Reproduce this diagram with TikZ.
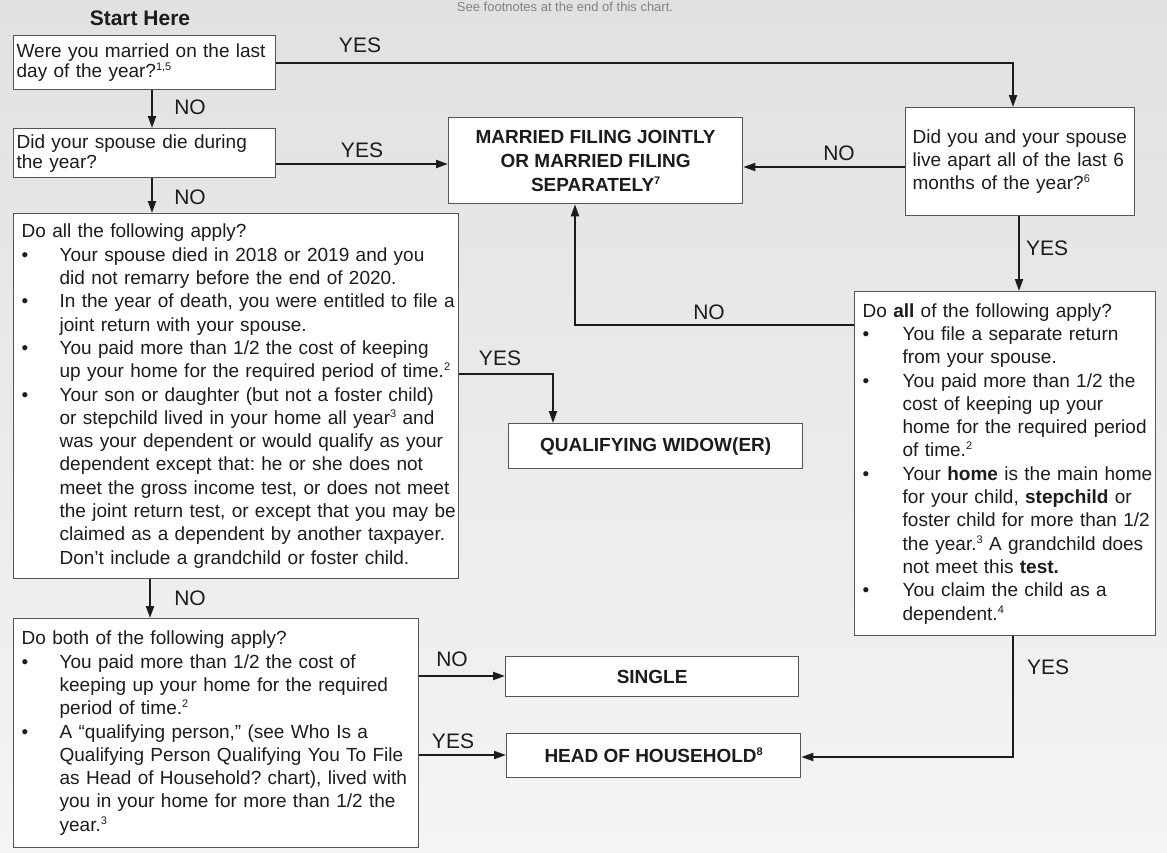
\documentclass[tikz,border=0pt]{standalone}
\usepackage{fontspec}
\setmainfont{Liberation Sans}
\usetikzlibrary{arrows.meta}
\definecolor{bgtop}{RGB}{225,225,225}
\definecolor{bgbot}{RGB}{244,244,244}
\definecolor{ink}{RGB}{28,28,28}
\definecolor{edge}{RGB}{85,85,85}
\definecolor{faint}{RGB}{130,130,130}
\newcommand{\sups}[1]{\raisebox{7pt}{\fontsize{11}{11}\selectfont #1}}
\newcommand{\pl}[1]{\mbox{#1}}
\newcommand{\bl}[1]{\mbox{\makebox[38pt][l]{\textbullet}#1}}
\newcommand{\il}[1]{\mbox{\hspace*{38pt}#1}}
\newcommand{\blr}[1]{\mbox{\makebox[40pt][l]{\textbullet}#1}}
\newcommand{\ilr}[1]{\mbox{\hspace*{40pt}#1}}
\begin{document}
\frenchspacing
\begin{tikzpicture}[x=1pt,y=-1pt,
  font=\fontsize{19}{23.3}\selectfont\frenchspacing, text=ink,
  box/.style={draw=edge, line width=1.3pt, fill=white, anchor=north west,
    align=left, inner ysep=0pt},
  res/.style={draw=edge, line width=1.3pt, fill=white, anchor=north west,
    align=center, inner sep=0pt, font=\fontsize{19}{24}\selectfont\bfseries},
  lab/.style={inner sep=0pt, font=\fontsize{21}{24}\selectfont},
  arr/.style={line width=2pt, draw=ink, -{Triangle[length=12pt,width=8pt]}}]
\useasboundingbox (0,0) rectangle (1167,852);
\clip (0,0) rectangle (1167,852);
\shade[top color=bgtop, bottom color=bgbot] (0,0) rectangle (1167,852);

\node[text=faint, inner sep=0pt, font=\fontsize{13}{14}\selectfont] (note) at (565,7) {See footnotes at the end of this chart.};
\node[inner sep=0pt, font=\fontsize{21}{24}\selectfont\bfseries] (start) at (140,18) {Start Here};

% question boxes
\node[box, inner xsep=3pt, minimum width=262pt, minimum height=54pt, text width=256pt,
  font=\fontsize{19}{20}\selectfont] (q1) at (13,35)
  {\pl{Were you married on the last}\\\pl{day of the year?\sups{1,5}}};
\node[box, inner xsep=3pt, minimum width=262pt, minimum height=49pt, text width=256pt,
  font=\fontsize{19}{20}\selectfont] (q2) at (13,128)
  {\pl{Did your spouse die during}\\\pl{the year?}};
\node[box, inner xsep=8pt, minimum width=445pt, minimum height=365pt, text width=429pt] (q3) at (13,213)
  {\pl{Do all the following apply?}\\
   \bl{Your spouse died in 2018 or 2019 and you}\\
   \il{did not remarry before the end of 2020.}\\
   \bl{In the year of death, you were entitled to file a}\\
   \il{joint return with your spouse.}\\
   \bl{You paid more than 1/2 the cost of keeping}\\
   \il{up your home for the required period of time.\sups{2}}\\
   \bl{Your son or daughter (but not a foster child)}\\
   \il{or stepchild lived in your home all year\sups{3} and}\\
   \il{was your dependent or would qualify as your}\\
   \il{dependent except that: he or she does not}\\
   \il{meet the gross income test, or does not meet}\\
   \il{the joint return test, or except that you may be}\\
   \il{claimed as a dependent by another taxpayer.}\\
   \il{Don’t include a grandchild or foster child.}};
\node[box, inner xsep=8pt, minimum width=405pt, minimum height=229pt, text width=389pt] (q4) at (13,618)
  {\pl{Do both of the following apply?}\\
   \bl{You paid more than 1/2 the cost of}\\
   \il{keeping up your home for the required}\\
   \il{period of time.\sups{2}}\\
   \bl{A “qualifying person,” (see Who Is a}\\
   \il{Qualifying Person Qualifying You To File}\\
   \il{as Head of Household? chart), lived with}\\
   \il{you in your home for more than 1/2 the}\\
   \il{year.\sups{3}}};
\node[box, inner xsep=7pt, minimum width=229pt, minimum height=108pt, text width=215pt] (q5) at (905,107)
  {\pl{Did you and your spouse}\\\pl{live apart all of the last 6}\\\pl{months of the year?\sups{6}}};
\node[box, inner xsep=8pt, minimum width=301pt, minimum height=344pt, text width=285pt] (q6) at (854,291)
  {\pl{Do \textbf{all} of the following apply?}\\
   \blr{You file a separate return}\\
   \ilr{from your spouse.}\\
   \blr{You paid more than 1/2 the}\\
   \ilr{cost of keeping up your}\\
   \ilr{home for the required period}\\
   \ilr{of time.\sups{2}}\\
   \blr{Your \textbf{home} is the main home}\\
   \ilr{for your child, \textbf{stepchild} or}\\
   \ilr{foster child for more than 1/2}\\
   \ilr{the year.\sups{3} A grandchild does}\\
   \ilr{not meet this \textbf{test.}}\\
   \blr{You claim the child as a}\\
   \ilr{dependent.\sups{4}}};

% result boxes
\node[res, minimum width=294pt, minimum height=86pt] (mfj) at (448,117)
  {MARRIED FILING JOINTLY\\OR MARRIED FILING\\SEPARATELY\sups{7}};
\node[res, minimum width=294pt, minimum height=45pt] (qw) at (508,423) {QUALIFYING WIDOW(ER)};
\node[res, minimum width=293pt, minimum height=40pt] (single) at (505,656) {SINGLE};
\node[res, minimum width=294pt, minimum height=44pt] (hoh) at (506,733) {HEAD OF HOUSEHOLD\sups{8}};

% helper levels
\coordinate (x1013) at (1013,0);
\coordinate (x152) at (152,0);
\coordinate (x150) at (150,0);
\coordinate (x1019) at (1019,0);
\coordinate (x575) at (575,0);
\coordinate (x553) at (553,0);
\coordinate (y164) at (0,164);
\coordinate (y167) at (0,167);
\coordinate (y325) at (0,325);
\coordinate (y374) at (0,374);
\coordinate (y676) at (0,676);
\coordinate (y755) at (0,755);
\coordinate (y757) at (0,757);

% connectors
\draw[arr] (q1.east) -| (q5.north -| x1013);
\draw[arr] (q1.south -| x152) -- (q2.north -| x152);
\draw[arr] (q2.east |- y164) -- (mfj.west |- y164);
\draw[arr] (q2.south -| x152) -- (q3.north -| x152);
\draw[arr] (q5.west |- y167) -- (mfj.east |- y167);
\draw[arr] (q5.south -| x1019) -- (q6.north -| x1019);
\draw[arr] (q6.west |- y325) -| (mfj.south -| x575);
\draw[arr] (q3.east |- y374) -| (qw.north -| x553);
\draw[arr] (q3.south -| x150) -- (q4.north -| x150);
\draw[arr] (q4.east |- y676) -- (single.west |- y676);
\draw[arr] (q4.east |- y755) -- (hoh.west |- y755);
\draw[arr] (q6.south -| x1013) |- (hoh.east |- y757);

% labels
\node[lab] (l1) at (360,45) {YES};
\node[lab] (l2) at (190,107) {NO};
\node[lab] (l3) at (362,150) {YES};
\node[lab] (l4) at (190,197) {NO};
\node[lab] (l5) at (839,153) {NO};
\node[lab] (l6) at (1047,248) {YES};
\node[lab] (l7) at (709,312) {NO};
\node[lab] (l8) at (500,358) {YES};
\node[lab] (l9) at (190,598) {NO};
\node[lab] (l10) at (452,659) {NO};
\node[lab] (l11) at (453,741) {YES};
\node[lab] (l12) at (1048,667) {YES};
\end{tikzpicture}
\end{document}
